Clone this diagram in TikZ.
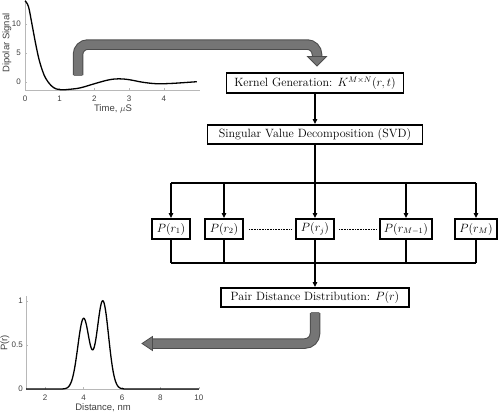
\documentclass[tikz,border=0pt]{standalone}
\usepackage{fontspec}
\newfontfamily\plotfont{Liberation Sans}
\usetikzlibrary{arrows.meta}
\definecolor{arrowfill}{rgb}{0.46,0.46,0.46}
\definecolor{arrowedge}{rgb}{0.30,0.30,0.30}
\definecolor{plottext}{rgb}{0.25,0.25,0.25}
\definecolor{axisgray}{rgb}{0.72,0.72,0.72}
\tikzset{
 stepbox/.style={draw, line width=1.9pt, inner sep=0pt, minimum height=19pt, font=\fontsize{12}{14}\selectfont},
 pbox/.style={stepbox, minimum height=20pt, minimum width=38pt, font=\fontsize{11.5}{13}\selectfont},
 conn/.style={line width=1.6pt},
 arr/.style={conn, -{Triangle[length=5pt,width=4.5pt]}},
 bigarrow/.style={line width=10.5pt, draw=arrowedge, rounded corners=10pt},
 bigarrowin/.style={line width=8.5pt, draw=arrowfill, rounded corners=10pt},
 bighead/.style={fill=arrowfill, draw=arrowedge, line width=0.8pt, line join=miter},
 ticklab/.style={font=\plotfont\fontsize{8}{9}\selectfont, text=plottext, inner sep=1pt},
 axlab/.style={font=\plotfont\fontsize{9.5}{11}\selectfont, text=plottext, inner sep=0pt},
 axisline/.style={draw=axisgray, line width=0.6pt},
 curve/.style={line width=1.3pt, black},
}
\begin{document}
\begin{tikzpicture}[x=1pt,y=-1pt]
\useasboundingbox (0,0) rectangle (500,415);

% ---------- top plot ----------
\draw[axisline] (25,0) -- (25,90) -- (200,90);
\foreach \t in {0,...,4}{
  \draw[axisline] ({25+34.7*\t},90) -- ({25+34.7*\t},88);
  \node[ticklab] at ({25+34.7*\t},99) {\t};
}
\foreach \v in {0,5,10}{
  \draw[axisline] (25,{82-5.8*\v}) -- (27,{82-5.8*\v});
  \node[ticklab, anchor=east] at (22,{82-5.8*\v}) {\v};
}
\node[axlab] at (113,109) {Time, $\mu$S};
\node[axlab, rotate=90] at (7,43) {Dipolar Signal};
\begin{scope}[shift={(25,82)}, x=34.7pt, y=5.8pt]
\draw[curve] plot[smooth, tension=0.6] coordinates {(0,14) (0.1,13) (0.2,10) (0.3,6.8) (0.4,4) (0.5,2) (0.6,0.6) (0.75,-0.6) (0.9,-1.2) (1.05,-1.35) (1.3,-1.25) (1.6,-1.0) (2.0,-0.3) (2.4,0.35) (2.7,0.55) (3.0,0.4) (3.4,-0.05) (3.8,-0.3) (4.2,-0.25) (4.6,-0.1) (4.95,0.05)};
\end{scope}

% ---------- bottom plot ----------
\draw[axisline] (26,296) -- (26,389) -- (199,389);
\foreach \d in {2,4,6,8,10}{
  \draw[axisline] ({26+19.2*(\d-1)},389) -- ({26+19.2*(\d-1)},387);
  \node[ticklab] at ({26+19.2*(\d-1)},398) {\d};
}
\foreach \v/\l in {0/0,0.5/0.5,1/1}{
  \draw[axisline] (26,{389-88*\v}) -- (28,{389-88*\v});
  \node[ticklab, anchor=east] at (24,{389-88*\v}) {\l};
}
\node[axlab] at (103,408) {Distance, nm};
\node[axlab, rotate=90] at (5,343) {P(r)};
\begin{scope}[shift={(26,389)}, x=19.2pt, y=88pt]
\draw[curve] (0,0) -- (1.8,0) -- plot[domain=2.8:6.2, samples=120, smooth] ({\x-1}, {0.8*exp(max(-(\x-4)*(\x-4)/0.18,-10)) + exp(max(-(\x-5)*(\x-5)/0.18,-10))}) -- (9,0);
\end{scope}

% ---------- flow chart ----------
\node[stepbox, minimum width=177pt, minimum height=20pt] (kern) at (315,83) {Kernel Generation: $K^{M\times N}(r,t)$};
\node[stepbox, minimum width=215pt] (svd) at (315,134.5) {Singular Value Decomposition (SVD)};
\node[pbox] (p1) at (171,229) {$P(r_1)$};
\node[pbox] (p2) at (224,229) {$P(r_2)$};
\node[pbox] (pj) at (315,229) {$P(r_j)$};
\node[pbox, minimum width=52pt] (pm1) at (406,229) {$P(r_{M-1})$};
\node[pbox, minimum width=42pt] (pm) at (476,229) {$P(r_M)$};
\node[stepbox, minimum width=188pt] (pair) at (315,297.5) {Pair Distance Distribution: $P(r)$};

\coordinate (split) at (315,183);
\coordinate (merge) at (315,263);

\draw[arr] (kern.south) -- (svd.north);
\draw[conn] (svd.south) -- (split);
\draw[conn] (p1 |- split) -- (pm |- split);
\foreach \n in {p1,p2,pj,pm1,pm}{
  \draw[arr] (\n |- split) -- (\n.north);
  \draw[conn] (\n.south) -- (\n |- merge);
}
\draw[conn] (p1 |- merge) -- (pm |- merge);
\draw[arr] (merge) -- (pair.north);

\draw[densely dotted, line width=0.6pt, shorten <=5pt, shorten >=4pt] (p2.east) -- (pj.west);
\draw[densely dotted, line width=0.6pt, shorten <=4pt, shorten >=3pt] (pj.east) -- (pm1.west);

% ---------- big grey arrows ----------
\coordinate (a1s) at (78,75);
\coordinate (a1a) at (78,44.5);
\coordinate (a1b) at (317,44.5);
\coordinate (a1e) at (317,58);
\draw[bigarrow] (a1s) -- (a1a) -- (a1b) -- (a1e);
\draw[bigarrowin] ([yshift=-0.9pt]a1s) -- (a1a) -- (a1b) -- (a1e);
\draw[bighead] (307.5,56.5) -- (326.5,56.5) -- (317,66) -- cycle;

\coordinate (a2s) at (315,313);
\coordinate (a2a) at (315,343.5);
\coordinate (a2e) at (151,343.5);
\draw[bigarrow] (a2s) -- (a2a) -- (a2e);
\draw[bigarrowin] ([yshift=0.9pt]a2s) -- (a2a) -- (a2e);
\draw[bighead] (152.5,336.5) -- (152.5,350.5) -- (142,343.5) -- cycle;
\end{tikzpicture}
\end{document}
